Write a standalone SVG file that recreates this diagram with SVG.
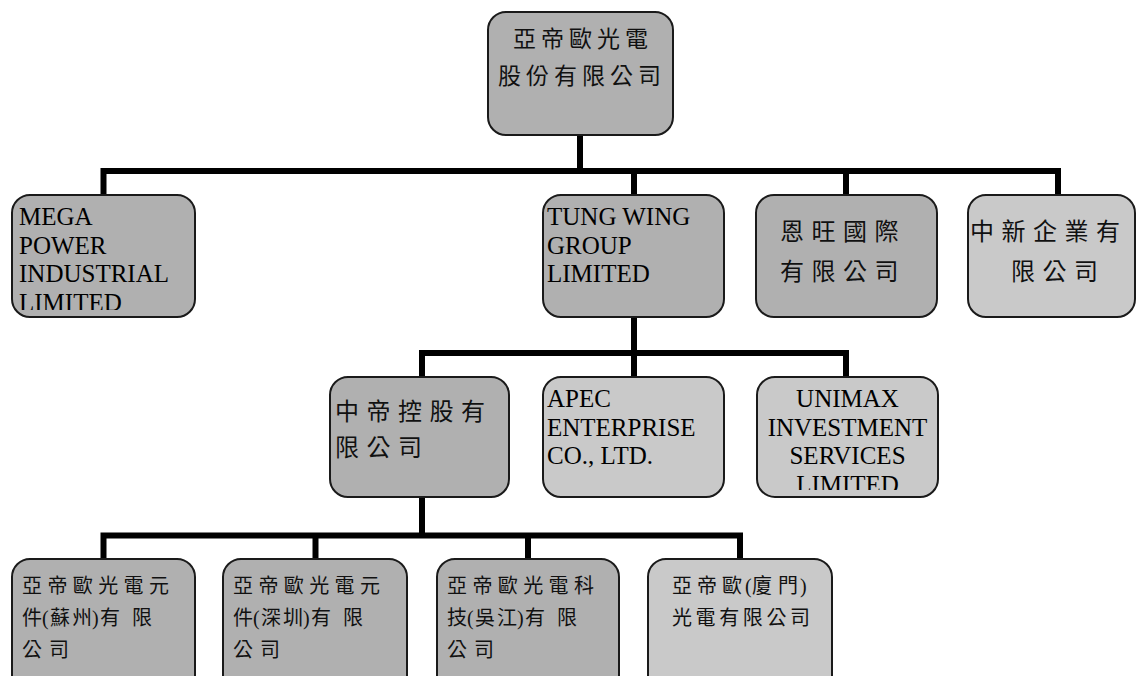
<svg xmlns="http://www.w3.org/2000/svg" width="1138" height="676" viewBox="0 0 1138 676">
<style>
.box{stroke:#1a1a1a;stroke-width:2}
.dk{fill:#b0b0b0}
.lt{fill:#c9c9c9}
.con{fill:none;stroke:#000;stroke-width:6;stroke-linejoin:miter;stroke-linecap:butt}
.en{font-family:"Liberation Serif","Times New Roman",serif;font-size:25px;fill:#000}
.zh{font-family:"Liberation Serif","Noto Sans CJK TC",serif;fill:#111}
.z23{font-size:23px;letter-spacing:5px}
.z25{font-size:24px;letter-spacing:7.5px}
.z20{font-size:20px}
</style>
<defs>
<clipPath id="clipMega"><rect x="12" y="195" width="183" height="115"/></clipPath>
<clipPath id="clipUni"><rect x="757" y="377" width="181" height="113"/></clipPath>
</defs>
<rect width="1138" height="676" fill="#fff"/>
<g id="connectors">
<path class="con" d="M580 135 V171"/>
<path class="con" d="M103.5 195 V171 H1058 V195"/>
<path class="con" d="M634 171 V195"/>
<path class="con" d="M846 171 V195"/>
<path class="con" d="M634 317 V377"/>
<path class="con" d="M422 377 V353 H846 V377"/>
<path class="con" d="M422 497 V535.5"/>
<path class="con" d="M103.5 559 V535.5 H740 V559"/>
<path class="con" d="M315.5 535.5 V559"/>
<path class="con" d="M528 535.5 V559"/>
</g>
<g id="n-root">
<rect class="box dk" x="488" y="12" width="185" height="123" rx="18"/>
<text class="zh z23" x="513" y="47">亞帝歐光電</text>
<text class="zh z23" x="498" y="84">股份有限公司</text>
</g>
<g id="n-mega">
<rect class="box dk" x="12" y="195" width="183" height="122" rx="18"/>
<g clip-path="url(#clipMega)">
<text class="en" x="19" y="225">MEGA</text>
<text class="en" x="19" y="253.5">POWER</text>
<text class="en" x="19" y="282">INDUSTRIAL</text>
<text class="en" x="19" y="310.5">LIMITED</text>
</g>
</g>
<g id="n-tung">
<rect class="box dk" x="543" y="195" width="181" height="122" rx="18"/>
<text class="en" x="547" y="225">TUNG WING</text>
<text class="en" x="547" y="253.5">GROUP</text>
<text class="en" x="547" y="282">LIMITED</text>
</g>
<g id="n-enwang">
<rect class="box dk" x="756" y="195" width="181" height="122" rx="18"/>
<text class="zh z25" x="780" y="240">恩旺國際</text>
<text class="zh z25" x="780" y="280">有限公司</text>
</g>
<g id="n-zhongxin">
<rect class="box lt" x="968" y="195" width="167" height="122" rx="18"/>
<text class="zh z25" x="970" y="240">中新企業有</text>
<text class="zh z25" x="1011" y="280">限公司</text>
</g>
<g id="n-zhongdi">
<rect class="box dk" x="330" y="377" width="179" height="120" rx="18"/>
<text class="zh z25" x="335" y="420">中帝控股有</text>
<text class="zh z25" x="335" y="456">限公司</text>
</g>
<g id="n-apec">
<rect class="box lt" x="543" y="377" width="181" height="120" rx="18"/>
<text class="en" x="547" y="407">APEC</text>
<text class="en" x="547" y="435.5">ENTERPRISE</text>
<text class="en" x="547" y="464">CO., LTD.</text>
</g>
<g id="n-unimax">
<rect class="box lt" x="757" y="377" width="181" height="120" rx="18"/>
<g clip-path="url(#clipUni)">
<text class="en" x="847.5" y="407" text-anchor="middle">UNIMAX</text>
<text class="en" x="847.5" y="435.5" text-anchor="middle">INVESTMENT</text>
<text class="en" x="847.5" y="464" text-anchor="middle">SERVICES</text>
<text class="en" x="847.5" y="492.5" text-anchor="middle">LIMITED</text>
</g>
</g>
<g id="n-suzhou">
<rect class="box dk" x="12" y="559" width="183" height="140" rx="18"/>
<text class="zh z20" x="22" y="593" letter-spacing="5.4">亞帝歐光電元</text>
<text class="zh z20" x="22 42 50 72 92 100 132" y="625">件(蘇州)有限</text>
<text class="zh z20" x="22 49" y="657">公司</text>
</g>
<g id="n-shenzhen">
<rect class="box dk" x="223" y="559" width="184" height="140" rx="18"/>
<text class="zh z20" x="233" y="593" letter-spacing="5.4">亞帝歐光電元</text>
<text class="zh z20" x="233 253 261 283 303 311 343" y="625">件(深圳)有限</text>
<text class="zh z20" x="233 260" y="657">公司</text>
</g>
<g id="n-wujiang">
<rect class="box dk" x="437" y="559" width="182" height="140" rx="18"/>
<text class="zh z20" x="447" y="593" letter-spacing="5.4">亞帝歐光電科</text>
<text class="zh z20" x="447 467 475 497 517 525 557" y="625">技(吳江)有限</text>
<text class="zh z20" x="447 474" y="657">公司</text>
</g>
<g id="n-xiamen">
<rect class="box lt" x="648" y="559" width="184" height="140" rx="18"/>
<text class="zh z20" x="672 697 722 745 752 778 800" y="593">亞帝歐(廈門)</text>
<text class="zh z20" x="672" y="625" letter-spacing="3.6">光電有限公司</text>
</g>
</svg>
